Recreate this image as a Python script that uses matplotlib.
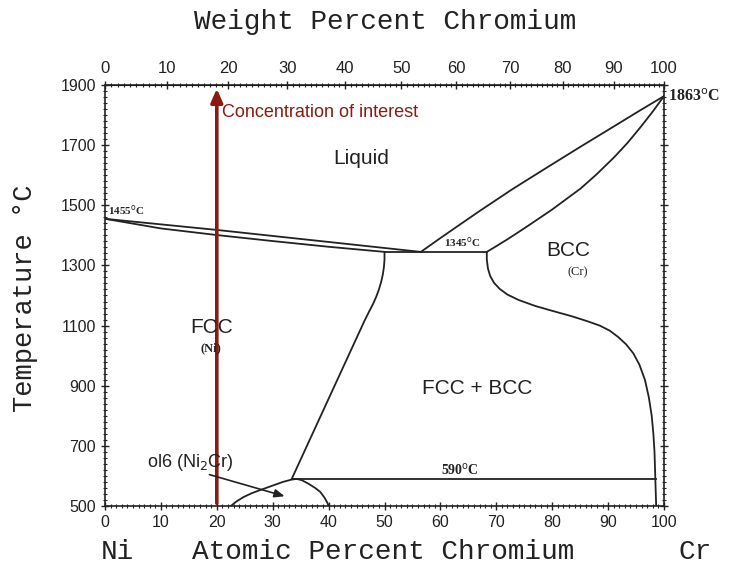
import numpy as np
import matplotlib
matplotlib.use("Agg")
import matplotlib.pyplot as plt
from matplotlib.ticker import MultipleLocator

# phase boundaries, atomic percent Cr vs temperature (C)
liq_ni_x = [0, 20, 56.5]
liq_ni_t = [1455, 1418, 1345]
sol_ni_x = [0, 10, 20, 30, 40, 50]
sol_ni_t = [1455, 1423, 1401, 1381, 1362, 1345]
eutectic_x = [50, 68.3]
eutectic_t = [1345, 1345]
liq_cr_x = [56.5, 60, 63.5, 67.1, 73, 79.1, 85, 91.1, 95.5, 100]
liq_cr_t = [1345, 1391, 1436, 1482, 1555, 1626, 1694, 1763, 1813, 1863]
sol_cr_x = [68.3, 70, 72, 74, 76.1, 80, 85.1, 88, 91.1, 93.5, 95.9, 98, 100]
sol_cr_t = [1345, 1364, 1387, 1411, 1437, 1486, 1556, 1604, 1660, 1708, 1762, 1812, 1863]
fcc_solvus_x = [50, 50.0, 49.9, 49.7, 49.4, 49.0, 48.5, 47.9, 47.2, 46.4, 43.55, 38.25, 33.4]
fcc_solvus_t = [1345, 1320, 1295, 1270, 1245, 1220, 1195, 1170, 1145, 1115, 1000, 786, 590]
bcc_solvus_x = [68.3, 68.3, 68.5, 68.9, 69.6, 70.6, 72.0, 74.0, 77.0, 80.2, 83.5, 86.2, 88.5,
                90.3, 91.8, 93.2, 94.5, 95.6, 96.6, 97.3, 97.8, 98.1, 98.3, 98.4, 98.5, 98.6]
bcc_solvus_t = [1345, 1320, 1290, 1265, 1242, 1222, 1203, 1185, 1165, 1148, 1131, 1115, 1100,
                1083, 1062, 1038, 1008, 970, 919, 860, 800, 740, 680, 620, 560, 500]
eutectoid_x = [33.4, 98.5]
eutectoid_t = [590, 590]
dome_x = [22.5, 23.5, 24.8, 26.3, 27.9, 30, 31.8, 33.4, 34.3, 35.2, 36.4, 37.6, 38.5, 39.3, 39.8, 40]
dome_t = [500, 515, 530, 543, 554, 568, 580, 588, 590, 586, 574, 560, 547, 527, 510, 500]

interest_x = 20
temp_ticks = [500, 700, 900, 1100, 1300, 1500, 1700, 1900]

M_CR = 52.00
M_NI = 58.69


def wt_to_at(w):
    w = np.asarray(w, dtype=float)
    with np.errstate(divide="ignore", invalid="ignore"):
        a = (w / M_CR) / (w / M_CR + (100 - w) / M_NI) * 100
    return a


def at_to_wt(a):
    a = np.asarray(a, dtype=float)
    with np.errstate(divide="ignore", invalid="ignore"):
        w = a * M_CR / (a * M_CR + (100 - a) * M_NI) * 100
    return w


fig = plt.figure(figsize=(7.4, 5.73), dpi=100)
ax = fig.add_axes([0.1419, 0.1169, 0.7554, 0.7348])

line_kw = dict(color="#222222", lw=1.3, solid_joinstyle="round")
ax.plot(liq_ni_x, liq_ni_t, **line_kw)
ax.plot(sol_ni_x, sol_ni_t, **line_kw)
ax.plot(eutectic_x, eutectic_t, **line_kw)
ax.plot(liq_cr_x, liq_cr_t, **line_kw)
ax.plot(sol_cr_x, sol_cr_t, **line_kw)
ax.plot(fcc_solvus_x, fcc_solvus_t, **line_kw)
ax.plot(bcc_solvus_x, bcc_solvus_t, **line_kw)
ax.plot(eutectoid_x, eutectoid_t, **line_kw)
ax.plot(dome_x, dome_t, **line_kw)

ax.set_xlim(0, 100)
ax.set_ylim(500, 1900)

tick_font = "Liberation Sans"
ax.xaxis.set_major_locator(MultipleLocator(10))
ax.xaxis.set_minor_locator(MultipleLocator(1))
ax.set_yticks(temp_ticks)
ax.yaxis.set_minor_locator(MultipleLocator(20))
ax.tick_params(which="both", direction="inout", right=True, top=False, colors="#222222")
ax.tick_params(which="major", length=6, width=1, labelsize=11.5)
ax.tick_params(which="minor", length=3, width=0.8)
for lab in ax.get_xticklabels() + ax.get_yticklabels():
    lab.set_fontfamily(tick_font)
for s in ax.spines.values():
    s.set_color("#222222")
    s.set_linewidth(1.2)

top = ax.secondary_xaxis("top", functions=(at_to_wt, wt_to_at))
top.xaxis.set_major_locator(MultipleLocator(10))
top.xaxis.set_minor_locator(MultipleLocator(1))
top.tick_params(which="both", direction="inout", colors="#222222")
top.tick_params(which="major", length=6, width=1, labelsize=12)
top.tick_params(which="minor", length=3, width=0.8)
for lab in top.get_xticklabels():
    lab.set_fontfamily(tick_font)

mono = "Liberation Mono"
fig.text(0.52, 0.962, "Weight Percent Chromium", ha="center", va="center",
         fontsize=20, family=mono, color="#222222")
fig.text(0.518, 0.037, "Atomic Percent Chromium", ha="center", va="center",
         fontsize=20, family=mono, color="#222222")
fig.text(0.158, 0.037, "Ni", ha="center", va="center", fontsize=20, family=mono, color="#222222")
fig.text(0.94, 0.037, "Cr", ha="center", va="center", fontsize=20, family=mono, color="#222222")
fig.text(0.034, 0.48, "Temperature \u00b0C", ha="center", va="center", rotation=90,
         fontsize=19.5, family=mono, color="#222222")

red = "#8B1A10"
ax.annotate("", xy=(interest_x, 1897), xytext=(interest_x, 500),
            arrowprops=dict(arrowstyle="-|>,head_length=0.8,head_width=0.35", color=red, lw=2.6),
            annotation_clip=False)
ax.text(20.9, 1807, "Concentration of interest", color=red, fontsize=13,
        family="Liberation Sans", ha="left", va="center")

lab_kw = dict(family="Liberation Sans", color="#222222", ha="center", va="center")
ax.text(45.9, 1657, "Liquid", fontsize=15, **lab_kw)
ax.text(66.5, 892, "FCC + BCC", fontsize=15, **lab_kw)
ax.text(82.8, 1351, "BCC", fontsize=15, **lab_kw)
ax.text(84.6, 1278, "(Cr)", fontsize=9, family="Liberation Serif", color="#222222",
        ha="center", va="center")
ax.text(19, 1095, "FCC", fontsize=15, **lab_kw)
ax.text(19, 1025, "(Ni)", fontsize=9, family="Liberation Serif", color="#222222",
        ha="center", va="center", fontweight="bold")
ax.text(15.2, 646, r"ol6 (Ni$_2$Cr)", fontsize=13, **lab_kw)
ax.annotate("", xy=(32.6, 530), xytext=(18.2, 607),
            arrowprops=dict(arrowstyle="-|>,head_length=0.6,head_width=0.25", color="#222222", lw=1.2))

temp_kw = dict(family="Liberation Serif", color="#222222", fontweight="bold", va="center")
ax.text(0.5, 1484, r"1455$^{\mathrm{o}}$C", fontsize=8, ha="left", **temp_kw)
ax.text(64, 1378, r"1345$^{\mathrm{o}}$C", fontsize=8, ha="center", **temp_kw)
ax.text(63.5, 620, r"590$^{\mathrm{o}}$C", fontsize=10, ha="center", **temp_kw)
ax.text(100.7, 1860, r"1863$^{\mathrm{o}}$C", fontsize=11.5, ha="left", clip_on=False, **temp_kw)

fig.savefig("out.png", dpi=100)
